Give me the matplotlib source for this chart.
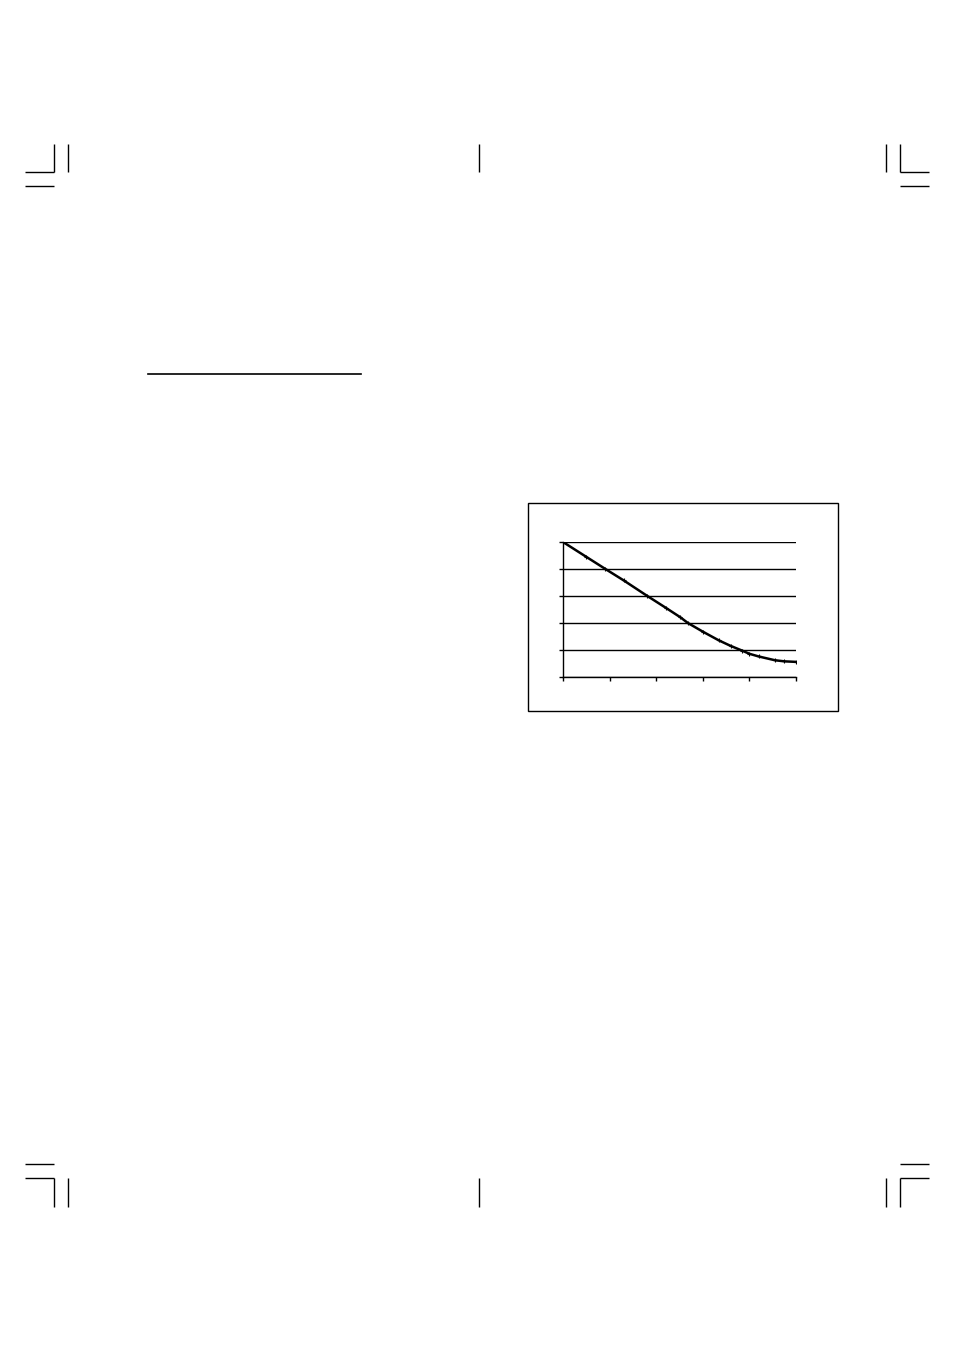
import matplotlib
matplotlib.use("Agg")
import matplotlib.pyplot as plt
from matplotlib.patches import Rectangle

# curve (no tick labels in the original, so unit scale 0..5)
xVals = [0, 0.5, 0.91, 1.3, 1.81, 2.2, 2.52, 2.68, 3.0, 3.34, 3.6, 3.84, 4.0, 4.2, 4.55, 4.75, 5.0]
yVals = [5.0, 4.45, 4.0, 3.58, 3.0, 2.57, 2.21, 2.0, 1.68, 1.36, 1.15, 0.98, 0.86, 0.76, 0.62, 0.58, 0.56]
xTicks = [0, 1, 2, 3, 4, 5]
yTicks = [0, 1, 2, 3, 4, 5]

W, H = 954, 1350
fig = plt.figure(figsize=(W / 100, H / 100), dpi=100)

# page layer in pixel coordinates
page = fig.add_axes([0, 0, 1, 1])
page.set_xlim(0, W)
page.set_ylim(H, 0)
page.axis("off")

def seg(x0, y0, x1, y1):
    page.plot([x0, x1], [y0, y1], color="black", lw=1.0, solid_capstyle="butt")

# crop marks top
seg(54, 144, 54, 172); seg(68, 144, 68, 172)
seg(25, 172, 54, 172); seg(25, 186, 54, 186)
seg(479, 144, 479, 172)
seg(886, 144, 886, 172); seg(900, 144, 900, 172)
seg(900, 172, 929, 172); seg(900, 186, 929, 186)
# crop marks bottom
seg(25, 1164, 54, 1164); seg(25, 1178, 54, 1178)
seg(54, 1178, 54, 1207); seg(68, 1178, 68, 1207)
seg(479, 1178, 479, 1207)
seg(900, 1164, 929, 1164); seg(900, 1178, 929, 1178)
seg(886, 1178, 886, 1207); seg(900, 1178, 900, 1207)

# short rule on the left
page.plot([148, 361], [374, 374], color="black", lw=1.2)

# chart frame
page.add_patch(Rectangle((528, 503), 310, 208, fill=False, edgecolor="black", lw=1.0))

# plot area
l, r, t, b = 563, 796, 542, 677
ax = fig.add_axes([l / W, 1 - b / H, (r - l) / W, (b - t) / H])
ax.set_facecolor("none")
ax.plot(xVals, yVals, color="black", lw=1.8, marker="+", ms=3, mew=0.8)
ax.set_xlim(0, 5)
ax.set_ylim(0, 5)
ax.set_xticks(xTicks)
ax.set_yticks(yTicks)
ax.set_xticklabels([])
ax.set_yticklabels([])
ax.yaxis.grid(True, color="black", lw=1.0)
ax.set_axisbelow(True)
ax.tick_params(axis="both", direction="out", length=3, width=1, color="black")
ax.spines["top"].set_visible(False)
ax.spines["right"].set_visible(False)
ax.spines["left"].set_linewidth(1.0)
ax.spines["bottom"].set_linewidth(1.0)

fig.savefig("out.png", dpi=100)
